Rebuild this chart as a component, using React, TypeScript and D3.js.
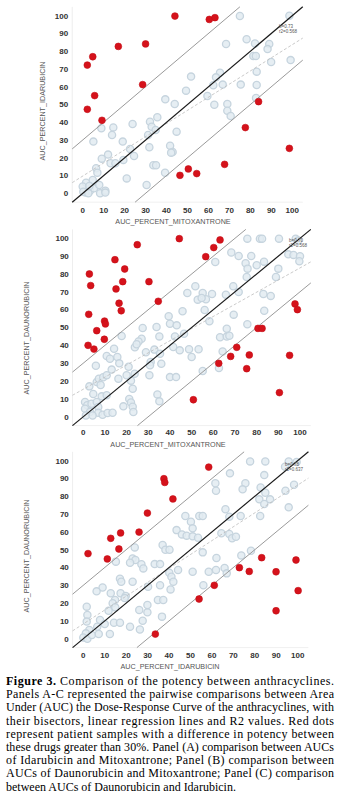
import React from "react";
import * as d3 from "d3";

// ---------- DATA ----------
const ticks = [0, 10, 20, 30, 40, 50, 60, 70, 80, 90, 100];

const titlesX = ["AUC_PERCENT_MITOXANTRONE", "AUC_PERCENT_MITOXANTRONE", "AUC_PERCENT_IDARUBICIN"];
const titlesY = ["AUC_PERCENT_IDARUBICIN", "AUC_PERCENT_DAUNORUBICIN", "AUC_PERCENT_DAUNORUBICIN"];

const slopes = [0.74, 0.68, 0.78];
const intercepts = [9.7, 15.4, 8.3];
const fitLabels = [["b=0.73", "r2=0.568"], ["b=0.70", "r2=0.568"], ["b=0.78", "r2=0.637"]];

// Panel A: Idarubicin (y) vs Mitoxantrone (x)
const panelARed: [number, number][] = [
  [44.0, 99.8], [60.4, 97.9], [63.1, 98.9], [17.0, 82.7], [30.0, 84.1], [4.8, 76.9],
  [2.2, 72.2], [28.6, 61.2], [5.7, 55.0], [2.2, 47.3], [9.2, 41.1], [83.9, 51.6],
  [77.6, 37.0], [98.6, 25.3], [67.7, 16.3], [46.4, 10.1], [50.4, 13.7], [54.4, 11.1],
];
const panelAGray: [number, number][] = [
  [75.0, 99.8], [98.6, 100], [68.4, 84.1], [78.2, 86.7], [82.2, 84.4], [89.0, 84.1],
  [88.2, 81.2], [81.4, 77.3], [82.6, 77.3], [89.9, 73.9], [99.2, 75.0], [83.0, 68.5],
  [65.5, 67.9], [63.6, 65.3], [51.7, 65.7], [62.3, 60.8], [66.8, 61.2], [75.4, 61.2],
  [83.0, 61.0], [49.3, 57.8], [59.5, 54.8], [82.7, 53.7], [39.4, 52.9], [43.9, 50.3],
  [62.8, 49.9], [69.0, 50.3], [69.0, 46.5], [70.6, 43.5], [35.6, 42.8], [32.1, 40.3],
  [32.9, 37.5], [23.8, 39.0], [14.6, 37.1], [8.9, 36.6], [14.0, 32.8], [31.2, 32.8],
  [44.8, 34.7], [34.8, 35.6], [19.1, 29.1], [5.1, 29.1], [22.6, 25.0], [31.8, 25.9],
  [41.7, 26.8], [42.9, 23.3], [42.2, 22.9], [24.5, 21.0], [12.1, 21.8], [9.1, 19.5],
  [19.4, 18.8], [13.3, 16.9], [15.6, 16.9], [33.7, 15.8], [35.0, 15.8], [6.4, 14.1],
  [7.0, 11.6], [39.3, 11.6], [21.0, 8.4], [30.5, 4.7], [4.8, 7.5], [1.6, 6.0],
  [0, 3.8], [3.5, 1.5], [1.3, 0.4], [8.3, 0], [10.8, 1.5], [10.8, 0.4], [5.4, 2.8],
  [3.2, 4.1], [0.3, 0.9], [7.9, 4.7], [2.7, 0],
];

// Panel B: Daunorubicin (y) vs Mitoxantrone (x)
const panelBRed: [number, number][] = [
  [44.3, 99.8], [63.1, 99.1], [60.2, 94.8], [56.5, 89.7], [24.9, 96.4], [14.6, 88.0],
  [19.1, 82.8], [2.8, 80.0], [3.4, 73.5], [18.2, 75.7], [15.1, 71.6], [30.3, 75.7],
  [16.5, 63.6], [17.5, 59.4], [34.6, 64.7], [2.5, 57.4], [9.8, 53.6], [10.2, 52.0],
  [6.2, 48.2], [9.7, 43.4], [2.2, 40.0], [4.9, 37.9], [97.7, 63.2], [98.8, 60.0],
  [80.6, 49.5], [82.5, 49.5], [70.8, 38.9], [76.6, 34.6], [68.0, 33.8], [62.5, 29.9],
  [75.4, 26.9], [95.2, 34.4], [90.5, 13.5], [50.8, 9.5],
];
const panelBGray: [number, number][] = [
  [75.7, 99.8], [81.5, 99.8], [82.5, 99.8], [90.3, 99.8], [98.0, 99.8], [99.2, 98.7],
  [68.3, 92.0], [71.7, 90.1], [77.5, 90.1], [74.9, 86.0], [75.8, 83.0], [80.0, 84.9],
  [83.4, 86.9], [60.9, 86.7], [90.0, 83.0], [88.9, 78.3], [75.4, 78.3], [94.6, 91.0],
  [97.0, 90.7], [100, 89.9], [99.7, 87.1], [51.7, 73.1], [69.2, 73.1], [48.0, 69.3],
  [55.1, 69.3], [59.4, 68.8], [65.8, 68.4], [71.7, 69.9], [83.1, 68.8], [86.5, 67.7],
  [52.8, 65.6], [56.6, 65.8], [54.6, 66.5], [56.0, 59.8], [45.8, 59.1], [83.5, 59.4],
  [58.2, 53.5], [69.4, 57.2], [39.4, 56.3], [40.0, 52.1], [43.1, 51.2], [27.4, 49.7],
  [33.8, 50.3], [66.2, 49.3], [75.7, 51.8], [35.1, 45.0], [42.3, 45.0], [46.5, 46.5],
  [17.7, 45.2], [26.9, 43.7], [25.5, 42.2], [23.8, 38.9], [24.6, 40.6], [14.2, 38.1],
  [10.8, 34.0], [12.3, 32.5], [15.7, 33.5], [28.9, 36.1], [32.8, 37.6], [35.4, 35.3],
  [41.5, 39.1], [44.5, 37.2], [48.8, 37.8], [50.0, 33.5], [53.2, 37.8], [63.1, 44.5],
  [64.3, 36.6], [66.2, 44.9], [67.4, 45.4], [31.1, 30.7], [30.8, 28.8], [36.0, 29.7],
  [16.6, 29.9], [5.8, 28.6], [20.9, 28.0], [13.1, 26.4], [23.7, 24.1], [30.5, 23.2],
  [40.0, 22.2], [42.8, 22.2], [2.8, 17.0], [6.2, 19.4], [7.2, 21.3], [9.2, 22.1],
  [10.8, 23.2], [8.0, 17.8], [20.0, 23.2], [16.2, 21.3], [22.0, 20.2], [22.8, 15.7],
  [34.2, 12.5], [35.1, 8.6], [18.5, 5.8], [21.2, 9.9], [22.0, 8.0], [22.8, 5.6],
  [23.1, 2.6], [4.6, 12.7], [8.5, 11.4], [10.8, 12.0], [0.8, 8.2], [1.8, 6.4],
  [3.8, 7.3], [6.2, 8.2], [6.9, 5.4], [0.8, 4.5], [3.1, 2.6], [1.2, 0.7], [6.9, 2.2],
  [8.9, 1.1], [11.2, 2.1], [13.5, 2.2], [4.3, 0.7], [62.6, 27.3], [55.1, 25.6],
];

// Panel C: Daunorubicin (y) vs Idarubicin (x)
const panelCRed: [number, number][] = [
  [58.5, 96.4], [37.6, 89.9], [38.0, 87.8], [41.8, 78.5], [29.9, 70.6], [26.0, 59.9],
  [17.4, 59.4], [12.8, 56.4], [16.6, 50.4], [11.2, 44.8], [2.2, 47.8], [72.8, 39.9],
  [77.4, 37.8], [83.2, 45.5], [89.9, 37.6], [99.2, 44.2], [100.2, 27.0], [61.1, 30.0],
  [54.0, 22.3], [89.9, 15.7], [33.6, 2.6],
];
const panelCGray: [number, number][] = [
  [77.8, 99.6], [84.9, 99.6], [95.8, 99.6], [99.5, 99.3], [94.1, 96.6], [68.4, 92.9],
  [61.6, 87.3], [61.9, 83.1], [75.6, 87.3], [74.3, 83.9], [84.4, 91.9], [82.7, 85.0],
  [84.9, 82.0], [82.1, 78.3], [87.1, 78.3], [84.4, 75.7], [94.3, 83.1], [98.3, 86.5],
  [95.8, 73.8], [66.3, 72.7], [68.1, 68.5], [82.5, 68.9], [73.4, 68.9], [47.6, 68.9],
  [54.1, 68.9], [55.7, 68.9], [50.2, 65.7], [51.0, 62.0], [43.5, 61.0], [46.0, 58.6],
  [48.2, 57.9], [51.0, 57.5], [53.5, 56.7], [64.4, 59.2], [68.1, 58.8], [69.4, 56.4],
  [71.2, 57.3], [55.7, 48.5], [62.1, 45.3], [73.7, 46.8], [78.2, 49.4], [37.0, 52.6],
  [38.3, 50.0], [40.2, 50.0], [24.0, 51.3], [23.0, 45.1], [24.3, 44.2], [21.8, 42.7],
  [27.1, 41.8], [28.0, 39.5], [15.2, 43.3], [33.3, 41.9], [35.8, 41.9], [40.1, 37.1],
  [44.2, 38.6], [51.0, 37.6], [58.5, 37.6], [61.9, 38.6], [65.9, 39.7], [66.9, 36.7],
  [41.1, 34.8], [42.0, 32.0], [40.7, 27.7], [35.8, 30.0], [30.2, 29.2], [17.1, 33.7],
  [17.7, 32.0], [23.0, 32.0], [12.8, 25.5], [17.4, 25.5], [19.8, 24.0], [19.3, 22.8],
  [14.8, 21.7], [13.7, 19.9], [14.9, 17.6], [9.0, 28.8], [6.2, 26.6], [11.8, 15.7],
  [1.6, 18.0], [1.9, 13.3], [7.8, 10.5], [10.0, 8.2], [14.3, 9.0], [17.1, 9.0],
  [6.5, 6.7], [1.6, 9.6], [2.8, 4.9], [1.2, 3.0], [0, 0.7], [1.9, 0], [4.0, 2.1],
  [7.2, 2.6], [12.4, 2.6], [21.8, 6.7], [26.4, 5.2], [26.1, 16.1], [29.9, 14.8],
  [29.9, 18.9], [27.7, 10.1], [34.8, 21.7], [37.3, 21.7], [36.7, 12.4], [56.0, 30.0],
];

const redSets = [panelARed, panelBRed, panelCRed];
const graySets = [panelAGray, panelBGray, panelCGray];

const captionLines = [
  "Panels A-C represented the pairwise comparisons between Area",
  "Under (AUC) the Dose-Response Curve of the anthracyclines, with",
  "their bisectors, linear regression lines and R2 values. Red dots",
  "represent patient samples with a difference in potency between",
  "these drugs greater than 30%. Panel (A) comparison between AUCs",
  "of Idarubicin and Mitoxantrone; Panel (B) comparison between",
  "AUCs of Daunorubicin and Mitoxantrone; Panel (C) comparison",
  "between AUCs of Daunorubicin and Idarubicin.",
];

// ---------- LAYOUT ----------
const layouts = [
  { x0: 82.7, x100: 292.3, y0: 193.3, y100: 15.7, tickY: 213, titleX: 173, titleY: 224, yTitleX: 45, yTitleY: 111, labelX: 279, labelY: 28 },
  { x0: 83.3, x100: 300, y0: 416.7, y100: 238.3, tickY: 435, titleX: 168, titleY: 447, yTitleX: 29, yTitleY: 338, labelX: 289, labelY: 242 },
  { x0: 83.3, x100: 297.7, y0: 638.7, y100: 460.7, tickY: 658, titleX: 170, titleY: 669, yTitleX: 29, yTitleY: 556, labelX: 285, labelY: 466 },
];

const sans = "'Liberation Sans', Arial, sans-serif";
const serif = "'Liberation Serif', 'Times New Roman', serif";

function Panel({ i }: { i: number }) {
  const L = layouts[i];
  const x = d3.scaleLinear().domain([0, 100]).range([L.x0, L.x100]);
  const y = d3.scaleLinear().domain([0, 100]).range([L.y0, L.y100]);
  const line = d3.line<[number, number]>().x((d) => x(d[0])).y((d) => y(d[1]));
  const lo = -5, hi = 105;
  const bis: [number, number][] = [[lo, lo], [hi, hi]];
  const up: [number, number][] = [[lo, lo + 30], [hi - 30, hi]];
  const dn: [number, number][] = [[lo + 30, lo], [hi, hi - 30]];
  const reg: [number, number][] = [[lo, slopes[i] * lo + intercepts[i]], [hi, slopes[i] * hi + intercepts[i]]];
  return (
    <g>
      <line x1={x(lo)} x2={x(lo)} y1={y(hi)} y2={y(lo)} stroke="#eeeeee" strokeWidth={1} />
      <line x1={x(lo)} x2={x(hi)} y1={y(lo)} y2={y(lo)} stroke="#f0f0f0" strokeWidth={1} />
      {ticks.map((t) => (
        <text key={"y" + t} x={L.x0 - 14.5} y={y(t)} dy="0.35em" textAnchor="end" fontFamily={sans} fontWeight="bold" fontSize={8} fill="#333">{t}</text>
      ))}
      {ticks.map((t) => (
        <text key={"x" + t} x={x(t)} y={L.tickY} textAnchor="middle" fontFamily={sans} fontWeight="bold" fontSize={8} fill="#333">{t}</text>
      ))}
      <text x={L.titleX} y={L.titleY} textAnchor="middle" fontFamily={sans} fontSize={7.2} fill="#555">{titlesX[i]}</text>
      <text transform={`translate(${L.yTitleX},${L.yTitleY}) rotate(-90)`} textAnchor="middle" fontFamily={sans} fontSize={7.2} fill="#555">{titlesY[i]}</text>
      {graySets[i].map((d, k) => (
        <circle key={"g" + k} cx={x(d[0])} cy={y(d[1])} r={3.6} fill="#e2ebf1" stroke="#c6d4de" strokeWidth={1.3} fillOpacity={0.85} />
      ))}
      <path d={line(up) || ""} stroke="#9a9a9a" strokeWidth={1} fill="none" />
      <path d={line(dn) || ""} stroke="#9a9a9a" strokeWidth={1} fill="none" />
      <path d={line(reg) || ""} stroke="#bdbdbd" strokeWidth={0.8} strokeDasharray="3,2" fill="none" />
      <path d={line(bis) || ""} stroke="#1a1a1a" strokeWidth={1.2} fill="none" />
      {redSets[i].map((d, k) => (
        <circle key={"r" + k} cx={x(d[0])} cy={y(d[1])} r={3.4} fill="#d5121b" stroke="#c40d16" strokeWidth={0.6} />
      ))}
      <text x={L.labelX} y={L.labelY} fontFamily={sans} fontSize={4.5} fill="#555">{fitLabels[i][0]}</text>
      <text x={L.labelX} y={L.labelY + 5} fontFamily={sans} fontSize={4.5} fill="#555">{fitLabels[i][1]}</text>
    </g>
  );
}

export default function App() {
  const capLeft = 6, capRight = 334, capTop = 685, lh = 13.2;
  return (
    <div style={{ position: "absolute", left: 0, top: 0 }}>
      <svg width={339} height={800} style={{ display: "block", background: "#fff" }}>
        <Panel i={0} />
        <Panel i={1} />
        <Panel i={2} />
        <text x={capLeft} y={capTop} fontFamily={serif} fontSize={12} fill="#000" textLength={capRight - capLeft} lengthAdjust="spacing">
          <tspan fontWeight="bold">Figure 3.</tspan> Comparison of the potency between anthracyclines.
        </text>
        {captionLines.map((s, k) => (
          <text key={k} x={capLeft} y={capTop + lh * (k + 1)} fontFamily={serif} fontSize={12} fill="#000"
            {...(k < captionLines.length - 1 ? { textLength: capRight - capLeft, lengthAdjust: "spacing" } : {})}>
            {s}
          </text>
        ))}
      </svg>
    </div>
  );
}
